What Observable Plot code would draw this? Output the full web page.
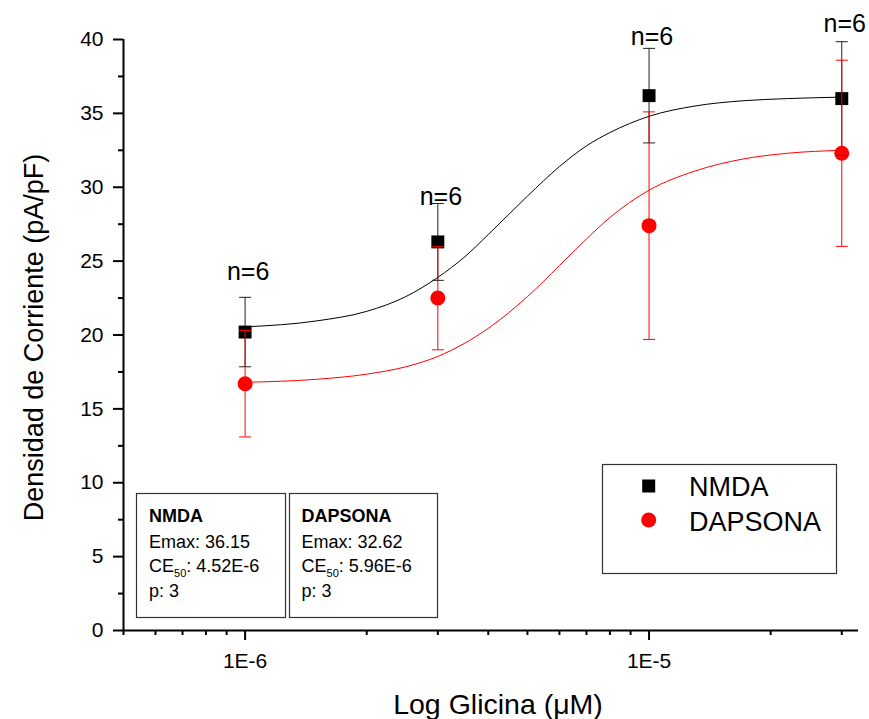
<!DOCTYPE html>
<html>
<head>
<meta charset="utf-8">
<script src="https://cdn.jsdelivr.net/npm/d3@7"></script>
<script src="https://cdn.jsdelivr.net/npm/@observablehq/plot@0.6"></script>
<style>
  html, body { margin: 0; padding: 0; background: #fff; }
  #chart svg { display: block; }
</style>
</head>
<body>
<div id="chart"></div>
<script>
// ---- data ----
const concentrations = [1e-6, 3e-6, 1e-5, 3e-5];          // Glicina (M)
const nmdaMean   = [20.2, 26.3, 36.2, 36.0];
const nmdaSE     = [2.35, 2.6, 3.2, 3.85];
const dapsonaMean = [16.7, 22.5, 27.4, 32.3];
const dapsonaSE   = [3.6, 3.5, 7.7, 6.3];
const nLabels  = ["n=6", "n=6", "n=6", "n=6"];
const nLabelY  = [23.7, 28.8, 39.6, 40.5];                // label anchor (data units)

// fitted curves
const fitX      = [1e-6, 1.5e-6, 2e-6, 2.5e-6, 3e-6, 3.5e-6, 4e-6, 5e-6, 6e-6, 7e-6, 8e-6, 1e-5, 1.3e-5, 1.7e-5, 2.2e-5, 3e-5];
const nmdaFit   = [20.55, 20.95, 21.6, 22.6, 23.9, 25.3, 26.8, 29.4, 31.4, 32.8, 33.7, 34.8, 35.5, 35.85, 36.0, 36.1];
const dapsonaFit = [16.8, 17.0, 17.35, 17.85, 18.55, 19.45, 20.45, 22.6, 24.7, 26.5, 27.95, 29.8, 31.1, 31.9, 32.3, 32.5];

const seriesNames = ["NMDA", "DAPSONA"];
const emaxValues  = ["36.15", "32.62"];
const ce50Values  = ["4.52E-6", "5.96E-6"];
const pValues     = ["3", "3"];

// ticks
const xMajorTicks = [1e-6, 1e-5];
const xTickLabels = ["1E-6", "1E-5"];
const xMinorTicks = [5e-7, 6e-7, 7e-7, 8e-7, 9e-7, 2e-6, 3e-6, 4e-6, 5e-6, 6e-6, 7e-6, 8e-6, 9e-6, 2e-5, 3e-5];
const yMajorTicks = [0, 5, 10, 15, 20, 25, 30, 35, 40];
const yMinorTicks = [2.5, 7.5, 12.5, 17.5, 22.5, 27.5, 32.5, 37.5];
const xDomain = [5e-7, 3.3e-5];
const yDomain = [0, 40];

// ---- build tables ----
const rows = concentrations.map((c, i) => ({
  c, nm: nmdaMean[i], ns: nmdaSE[i], dm: dapsonaMean[i], ds: dapsonaSE[i], n: nLabels[i], ny: nLabelY[i]
}));
const fitRows = fitX.map((x, i) => ({ x, nm: nmdaFit[i], dm: dapsonaFit[i] }));
const xLabelMap = new Map(xMajorTicks.map((t, i) => [t, xTickLabels[i]]));

const capSymbol = {
  draw(ctx, size) {
    const w = Math.sqrt(size / Math.PI);
    ctx.moveTo(-w, 0);
    ctx.lineTo(w, 0);
  }
};

const FONT = "'Liberation Sans', Arial, Helvetica, sans-serif";
const BLACKERR = "#222";

const plot = Plot.plot({
  width: 869,
  height: 719,
  marginLeft: 123,
  marginRight: 11,
  marginTop: 39,
  marginBottom: 89,
  style: { fontFamily: FONT, fontSize: "21px", color: "#000", background: "#fff", overflow: "visible" },
  x: { type: "log", domain: xDomain, label: null },
  y: { domain: yDomain, label: null },
  marks: [
    // axes
    Plot.axisY({ ticks: yMinorTicks, tickSize: 5, strokeWidth: 2, tickFormat: () => "", label: null }),
    Plot.axisY({ ticks: yMajorTicks, tickSize: 10, tickPadding: 10, strokeWidth: 2, fontSize: 21, label: null }),
    Plot.axisX({ ticks: xMinorTicks, tickSize: 5, strokeWidth: 2, tickFormat: () => "", label: null }),
    Plot.axisX({ ticks: xMajorTicks, tickSize: 10, tickPadding: 13, strokeWidth: 2, fontSize: 21,
      tickFormat: d => xLabelMap.get(d) ?? "", label: null }),
    Plot.ruleX([xDomain[0]], { y1: yDomain[0], y2: yDomain[1], strokeWidth: 2 }),
    Plot.ruleY([yDomain[0]], { strokeWidth: 2 }),

    // fitted curves
    Plot.line(fitRows, { x: "x", y: "nm", stroke: "#000", strokeWidth: 1, curve: "monotone-x" }),
    Plot.line(fitRows, { x: "x", y: "dm", stroke: "#ff0000", strokeWidth: 1, curve: "monotone-x" }),

    // NMDA error bar stems + squares
    Plot.ruleX(rows, { x: "c", y1: d => d.nm - d.ns, y2: d => d.nm + d.ns, stroke: BLACKERR, strokeWidth: 1 }),
    Plot.dot(rows, { x: "c", y: "nm", symbol: "square", r: 7.3, fill: "#000" }),

    // DAPSONA error bars + circles
    Plot.ruleX(rows, { x: "c", y1: d => d.dm - d.ds, y2: d => d.dm + d.ds, stroke: "#ff0000", strokeWidth: 1 }),
    Plot.dot(rows, { x: "c", y: d => d.dm + d.ds, symbol: capSymbol, r: 6, stroke: "#ff0000", strokeWidth: 1 }),
    Plot.dot(rows, { x: "c", y: d => d.dm - d.ds, symbol: capSymbol, r: 6, stroke: "#ff0000", strokeWidth: 1 }),
    Plot.dot(rows, { x: "c", y: "dm", r: 7.5, fill: "#ff0000" }),

    // NMDA caps
    Plot.dot(rows, { x: "c", y: d => d.nm + d.ns, symbol: capSymbol, r: 6, stroke: BLACKERR, strokeWidth: 1 }),
    Plot.dot(rows, { x: "c", y: d => d.nm - d.ns, symbol: capSymbol, r: 6, stroke: BLACKERR, strokeWidth: 1 }),

    // n labels
    Plot.text(rows, { x: "c", y: "ny", text: "n", fontSize: 25, textAnchor: "middle", lineAnchor: "bottom", dx: 3 }),

    // axis titles
    Plot.text(["Log Glicina (μM)"], { frameAnchor: "bottom", textAnchor: "middle", lineAnchor: "middle", dy: 74, dx: 7, fontSize: 28.5 }),
    Plot.text(["Densidad de Corriente (pA/pF)"], { frameAnchor: "left", textAnchor: "middle", lineAnchor: "middle", rotate: -90, dx: -89.6, dy: 2.5, fontSize: 27 })
  ]
});

document.getElementById("chart").appendChild(plot);

// ---- annotation boxes (fit parameters) ----
const svg = d3.select(plot);
const boxes = [
  { x: 136, y: 493, w: 149, h: 124, tx: 149 },
  { x: 289, y: 493, w: 148, h: 124, tx: 301.5 }
];
seriesNames.forEach((name, i) => {
  const b = boxes[i];
  const g = svg.append("g")
    .attr("font-family", FONT).attr("font-size", 18).attr("fill", "#000")
    .attr("text-anchor", "start").style("text-anchor", "start");
  g.append("rect").attr("x", b.x + 0.5).attr("y", b.y + 0.5).attr("width", b.w).attr("height", b.h)
    .attr("fill", "#fff").attr("stroke", "#333").attr("stroke-width", 1.2);
  g.append("text").attr("x", b.tx).attr("y", 521.5).attr("font-weight", "bold").text(name);
  g.append("text").attr("x", b.tx).attr("y", 548).text("Emax: " + emaxValues[i]);
  const t = g.append("text").attr("x", b.tx).attr("y", 572);
  t.append("tspan").text("CE");
  t.append("tspan").attr("font-size", 11).attr("dy", 5).text("50");
  t.append("tspan").attr("dy", -5).text(": " + ce50Values[i]);
  g.append("text").attr("x", b.tx).attr("y", 597).text("p: " + pValues[i]);
});

// ---- legend ----
const lg = svg.append("g")
  .attr("font-family", FONT).attr("font-size", 27).attr("fill", "#000")
  .attr("text-anchor", "start").style("text-anchor", "start");
lg.append("rect").attr("x", 602.5).attr("y", 464.5).attr("width", 234).attr("height", 109)
  .attr("fill", "#fff").attr("stroke", "#333").attr("stroke-width", 1.2);
lg.append("rect").attr("x", 642.2).attr("y", 479.5).attr("width", 13).attr("height", 13).attr("fill", "#000");
lg.append("circle").attr("cx", 648.7).attr("cy", 520).attr("r", 7.5).attr("fill", "#ff0000");
lg.append("text").attr("x", 689).attr("y", 495.5).text(seriesNames[0]);
lg.append("text").attr("x", 689).attr("y", 530.5).text(seriesNames[1]);
</script>
</body>
</html>
